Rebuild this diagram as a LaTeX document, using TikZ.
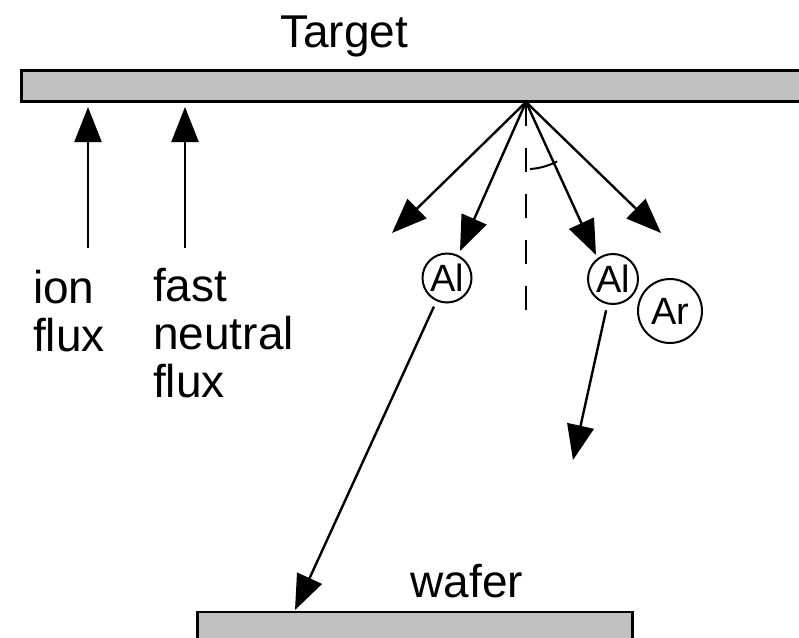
\documentclass[tikz,border=0pt]{standalone}
\usepackage{fontspec}
\setmainfont{Liberation Sans}
\usetikzlibrary{arrows.meta}
\definecolor{platefill}{RGB}{192,192,192}
\begin{document}
\begin{tikzpicture}[x=1pt,y=-1pt,
  plate/.style={draw=black, line width=2.7pt, fill=platefill, rectangle, inner sep=0pt, outer sep=0pt, anchor=north west},
  ray/.style={line width=2.4pt, -{Triangle[length=35pt,width=27pt]}},
  atom/.style={circle, draw, line width=2pt, inner sep=0pt, minimum size=49pt, font=\fontsize{38}{38}\selectfont},
  lbl/.style={font=\fontsize{46}{48}\selectfont, inner sep=0pt}
]
\useasboundingbox (0,0) rectangle (799,637);
\fill[white] (0,0) rectangle (799,637);

% target plate
\node[plate, minimum width=800pt, minimum height=31pt] (target) at (21.3,70.5) {};
\node[lbl, anchor=base] (tgtname) at (344,47) {Target};

% wafer plate
\node[plate, minimum width=435.4pt, minimum height=60pt] (wafer) at (197.3,612) {};
\node[lbl, anchor=base] (wafername) at (467,597) {wafer};

% incoming fluxes
\coordinate (ionfoot) at (88,248);
\coordinate (ionhit) at (88,107);
\coordinate (fastfoot) at (185,248);
\coordinate (fasthit) at (185,107);
\draw[ray] (ionfoot) -- (ionhit);
\draw[ray] (fastfoot) -- (fasthit);
% multi-line nodes sit on the baseline of their last line
\node[lbl, anchor=base west, align=left] (ionlbl) at (33,351) {ion\\flux};
\node[lbl, anchor=base west, align=left] (fastlbl) at (153,397) {fast\\neutral\\flux};

% sputtered fan from the impact point
\coordinate (src) at (526,102);
\coordinate (f1) at (392,233);
\coordinate (f2) at (460,251);
\coordinate (f3) at (596,255);
\coordinate (f4) at (661,233);
\foreach \t in {f1,f2,f3,f4} \draw[ray] (src) -- (\t);

% surface normal and emission angle
\coordinate (normalend) at (526,310);
\draw[line width=2pt, dash pattern=on 24pt off 22pt] (src) -- (normalend);
\draw[line width=2pt] (530,169) arc[start angle=86.6, end angle=62, radius=66];

% atoms
\node[atom] (al1) at (447,278) {Al};
\node[atom, minimum size=50pt] (al2) at (613,279) {Al};
\node[atom, minimum size=64pt] (ar) at (670,311) {Ar};

% atom trajectories
\coordinate (waferhit) at (295,610);
\coordinate (drift) at (573,460);
\draw[ray, shorten <=6pt] (al1) -- (waferhit);
\draw[ray, shorten <=6pt] (al2) -- (drift);
\end{tikzpicture}
\end{document}
